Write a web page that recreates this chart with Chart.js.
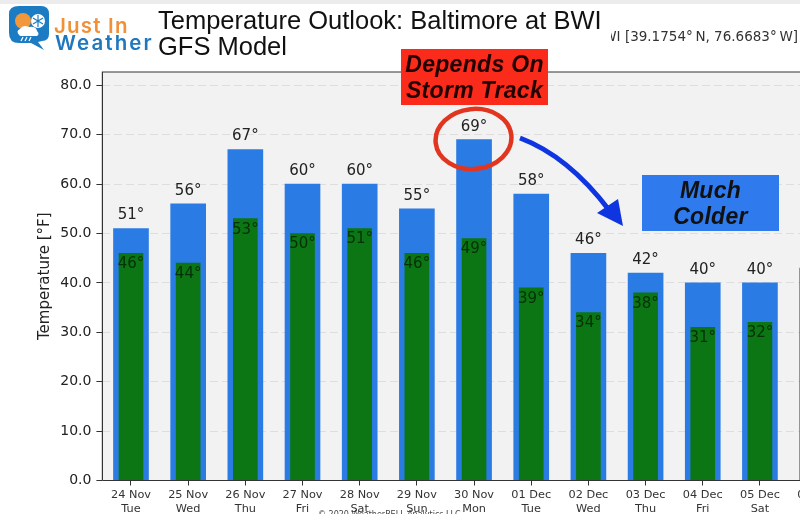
<!DOCTYPE html>
<html>
<head>
<meta charset="utf-8">
<script src="https://cdn.jsdelivr.net/npm/chart.js@4"></script>
<style>
html, body { margin: 0; padding: 0; background: #fff; overflow: hidden; }
#wrap { position: relative; width: 800px; height: 514px; overflow: hidden; }
#topband { position: absolute; left: 0; top: 0; width: 800px; height: 4px; background: #ececec; }
#c { position: absolute; left: 0; top: 0; }
.txt { position: absolute; white-space: nowrap; }
#title { left: 158px; top: 7px; font: 25.5px/26px "Liberation Sans"; color: #111; }
#station { left: 611px; top: 28px; font: 13.5px "DejaVu Sans"; color: #333; width: 187px; overflow: hidden; }
#just { left: 54px; top: 13px; font: 600 20.5px "Inter"; letter-spacing: 1.2px; color: #f0913a; }
#weather { left: 55px; top: 30px; font: 600 20.5px "Inter"; letter-spacing: 2.1px; color: #1f78bd; }
.box { position: absolute; text-align: center; font: italic bold 23px/26px "Liberation Sans"; letter-spacing: 0.3px; color: #111; }
#red { left: 401px; top: 49px; width: 147px; height: 56px; background: #fb2b1c; color: #200; padding-top: 0; }
#red span, #blue span { position: relative; top: 2px; display: block; }
#blue { left: 642px; top: 175px; width: 137px; height: 56px; background: #2f7aec; }
#copy { left: 318px; top: 510px; font: 8px "DejaVu Sans"; color: #444; }
svg { position: absolute; left: 0; top: 0; }
</style>
</head>
<body>
<div id="wrap">
  <div id="topband"></div>
  <canvas id="c" width="900" height="514" style="width:900px;height:514px"></canvas>
  <svg width="800" height="514">
    <path d="M19 6 H41 Q49 6 49 14 V34 Q49 41 42 41 L38 42 L44 50 L31 43 H19 Q9 43 9 33 V14 Q9 6 19 6 Z" fill="#1b7cc4"/>
    <circle cx="23" cy="21" r="8" fill="#f2973c"/>
    <circle cx="38" cy="21" r="7" fill="#fff"/>
    <path d="M38 15 V27 M33 18 L43 24 M43 18 L33 24" stroke="#1b7cc4" stroke-width="1.2"/>
    <path d="M20 36 Q15 31 20 29 Q23 24 29 27 Q36 26 37 31 Q40 34 37 36 Z" fill="#fff"/>
    <path d="M23 37 L21 41 M27 37 L25 41 M31 37 L29 41" stroke="#fff" stroke-width="1.2"/>
    <ellipse cx="473.5" cy="139" rx="38" ry="30" fill="none" stroke="#e2351f" stroke-width="4.5" transform="rotate(-6 473.5 139)"/>
    <path d="M520 138 Q568 156 609 210" fill="none" stroke="#0f35e0" stroke-width="5"/>
    <path d="M597 213 L618 199 L623 226 Z" fill="#0f35e0"/>
  </svg>
  <div class="txt" id="just">Just In</div>
  <div class="txt" id="weather">Weather</div>
  <div class="txt" id="title">Temperature Outlook: Baltimore at BWI<br>GFS Model</div>
  <div class="txt" id="station" style="direction:rtl;text-align:left"><span style="direction:ltr;unicode-bidi:bidi-override">BWI [39.1754°&#8201;N, 76.6683°&#8201;W]</span></div>
  <div class="box" id="red"><span>Depends On<br>Storm Track</span></div>
  <div class="box" id="blue"><span>Much<br>Colder</span></div>
  <div class="txt" id="copy">© 2020 WeatherBELL Analytics LLC</div>
</div>
<script>
const dates = ['24 Nov', '25 Nov', '26 Nov', '27 Nov', '28 Nov', '29 Nov', '30 Nov', '01 Dec', '02 Dec', '03 Dec', '04 Dec', '05 Dec', '06 Dec'];
const weekdays = ['Tue', 'Wed', 'Thu', 'Fri', 'Sat', 'Sun', 'Mon', 'Tue', 'Wed', 'Thu', 'Fri', 'Sat', 'Sun'];
const highs = [51, 56, 67, 60, 60, 55, 69, 58, 46, 42, 40, 40, 43];
const lows = [46, 44, 53, 50, 51, 46, 49, 39, 34, 38, 31, 32, 35];
const yTicks = [0, 10, 20, 30, 40, 50, 60, 70, 80];

// values printed over the bars, and the plot frame
const barLabels = {
  id: 'barLabels',
  beforeDraw(chart) {
    const a = chart.chartArea;
    const ctx = chart.ctx;
    ctx.save();
    ctx.fillStyle = '#f2f2f2';
    ctx.fillRect(a.left, a.top, a.right - a.left, a.bottom - a.top);
    ctx.restore();
  },
  afterDatasetsDraw(chart) {
    const a = chart.chartArea;
    const ctx = chart.ctx;
    const x = chart.scales.x;
    const y = chart.scales.y;
    ctx.save();
    ctx.strokeStyle = '#333';
    ctx.lineWidth = 1.2;
    ctx.beginPath();
    ctx.moveTo(a.left, a.bottom);
    ctx.lineTo(a.left, a.top);
    ctx.lineTo(a.right, a.top);
    ctx.moveTo(a.left, a.bottom);
    ctx.lineTo(a.right, a.bottom);
    ctx.stroke();
    ctx.font = '15px "DejaVu Sans"';
    ctx.textAlign = 'center';
    ctx.textBaseline = 'middle';
    highs.forEach((v, i) => {
      ctx.fillStyle = '#222';
      ctx.fillText(v + '°', x.getPixelForValue(i), y.getPixelForValue(v) - 13);
      ctx.fillStyle = '#06300a';
      ctx.fillText(lows[i] + '°', x.getPixelForValue(i), y.getPixelForValue(lows[i]) + 11);
    });
    ctx.restore();
  }
};

new Chart(document.getElementById('c'), {
  type: 'bar',
  data: {
    labels: dates.map((d, i) => [d, weekdays[i]]),
    datasets: [
      { data: lows, backgroundColor: '#0b7613', barThickness: 24, grouped: false, order: 1 },
      { data: highs, backgroundColor: '#2a7be4', barThickness: 35, grouped: false, order: 2 }
    ]
  },
  options: {
    responsive: false,
    animation: false,
    layout: { padding: { left: 36, top: 72, right: 54.3, bottom: 0 } },
    plugins: { legend: { display: false }, tooltip: { enabled: false } },
    scales: {
      x: {
        offset: true,
        afterFit(s) { s.height = 33.5; },
        border: { display: false },
        grid: { offset: false, drawOnChartArea: false, tickLength: 5, tickColor: '#333' },
        ticks: { color: '#333', font: { family: 'DejaVu Sans', size: 11.3, lineHeight: 1.2 }, maxRotation: 0, autoSkip: false, padding: 3 }
      },
      y: {
        min: 0,
        max: 82.7,
        afterBuildTicks(s) { s.ticks = yTicks.map(v => ({ value: v })); },
        afterFit(s) { s.width = 66.4; },
        border: { display: false, dash: [8, 4] },
        grid: { color: '#dedede', tickColor: '#333', tickLength: 6, tickBorderDash: [] },
        title: { display: true, text: 'Temperature [°F]', color: '#222', font: { family: 'DejaVu Sans', size: 15 }, padding: 0 },
        ticks: { color: '#222', font: { family: 'DejaVu Sans', size: 14 }, padding: 5, callback: v => v.toFixed(1) }
      }
    }
  },
  plugins: [barLabels]
});
</script>
</body>
</html>
